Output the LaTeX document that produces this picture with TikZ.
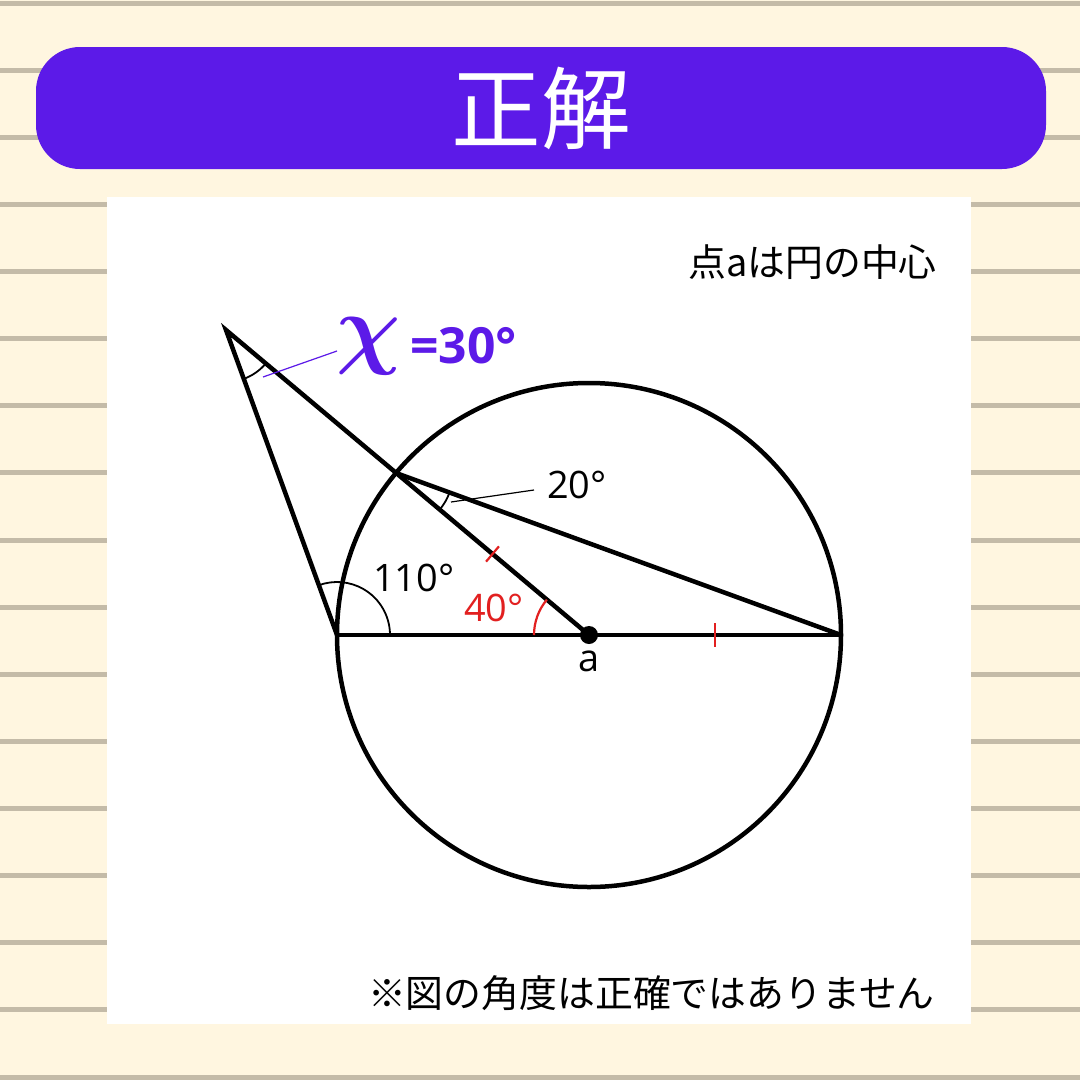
\documentclass[tikz,border=0pt]{standalone}
\usepackage{bm}
\usepackage{fontspec}
\setmainfont{Open Sans}
\newfontfamily\jpfont{Noto Sans CJK JP}
\usetikzlibrary{calc}
\definecolor{paper}{RGB}{255,246,224}
\definecolor{ruling}{RGB}{196,187,168}
\definecolor{banner}{RGB}{92,26,232}
\definecolor{tickred}{RGB}{226,32,32}

\begin{document}
\begin{tikzpicture}
[x=1bp,y=-1bp,
fig/.style={line width=4.5bp},
angmark/.style={line width=1.8bp},
leader/.style={line width=1.2bp},
redmark/.style={line width=2.2bp,draw=tickred},
deg/.style={font=\fontsize{38}{42}\selectfont,inner sep=0pt,anchor=west},
jp/.style={font=\jpfont\fontsize{38}{44}\selectfont,inner sep=0pt,anchor=east}]

\fill[paper] (0,0) rectangle (1080,1080);
\useasboundingbox (0,0) rectangle (1080,1080);
\foreach \k in {0,...,16}
	\fill[ruling] (0,{0.5+67.125*\k}) rectangle (1080,{5.5+67.125*\k});
\fill[banner,rounded corners=44bp] (36,47) rectangle (1046,169);
\node[text=white,font=\jpfont\fontsize{90}{96}\selectfont,inner sep=0pt] (title) at (541,108) {正解};
\fill[white] (107,197) rectangle (971,1024);

\coordinate (O) at (589,635);
\coordinate (A) at (337,635);
\coordinate (B) at (841,635);
\coordinate (C) at (396,473);
\coordinate (X) at (226,330);

\draw[fig] (O) circle[radius=252];
\draw[fig] (A) -- (B);
\draw[fig] (A) -- (X) -- (O);
\draw[fig] (C) -- (B);

\draw[angmark] ([shift={(70:52)}]X) arc[start angle=70,end angle=40,radius=52];
\draw[angmark] ([shift={(40:57)}]C) arc[start angle=40,end angle=20,radius=57];
\draw[angmark] ([shift={(0:53)}]A) arc[start angle=0,end angle=-110,radius=53];
\draw[redmark] ([shift={(180:55)}]O) arc[start angle=180,end angle=220,radius=55];
\draw[redmark] ($(O)!.5!(C)!10bp!90:(C)$) -- ($(O)!.5!(C)!10bp!-90:(C)$);
\draw[redmark] ($(O)!.5!(B)!12bp!90:(B)$) -- ($(O)!.5!(B)!12bp!-90:(B)$);
\fill (O) circle[radius=9];

\coordinate (xl) at (263,377);
\coordinate (cl) at (451,502);
\node[text=banner,scale=9,inner sep=0pt] (chi) at (369,346) {$\bm{\chi}$};
\node[deg,text=banner,font=\bfseries\fontsize{50}{54}\selectfont] (xval) at (410,346) {=30°};
\draw[leader,banner] (xl) -- ++(74,-26);
\draw[leader] (cl) -- ++(83,-12);
\node[deg] (d20) at (547,485) {20°};
\node[deg] (d110) at (373,578) {110°};
\node[deg,text=tickred] (d40) at (464,608) {40°};
\node[deg,anchor=center] (lbla) at (589,661) {a};

\node[jp] (note1) at (937,262) {点aは円の中心};
\node[jp] (note2) at (935,993) {※図の角度は正確ではありません};
\end{tikzpicture}
\end{document}
